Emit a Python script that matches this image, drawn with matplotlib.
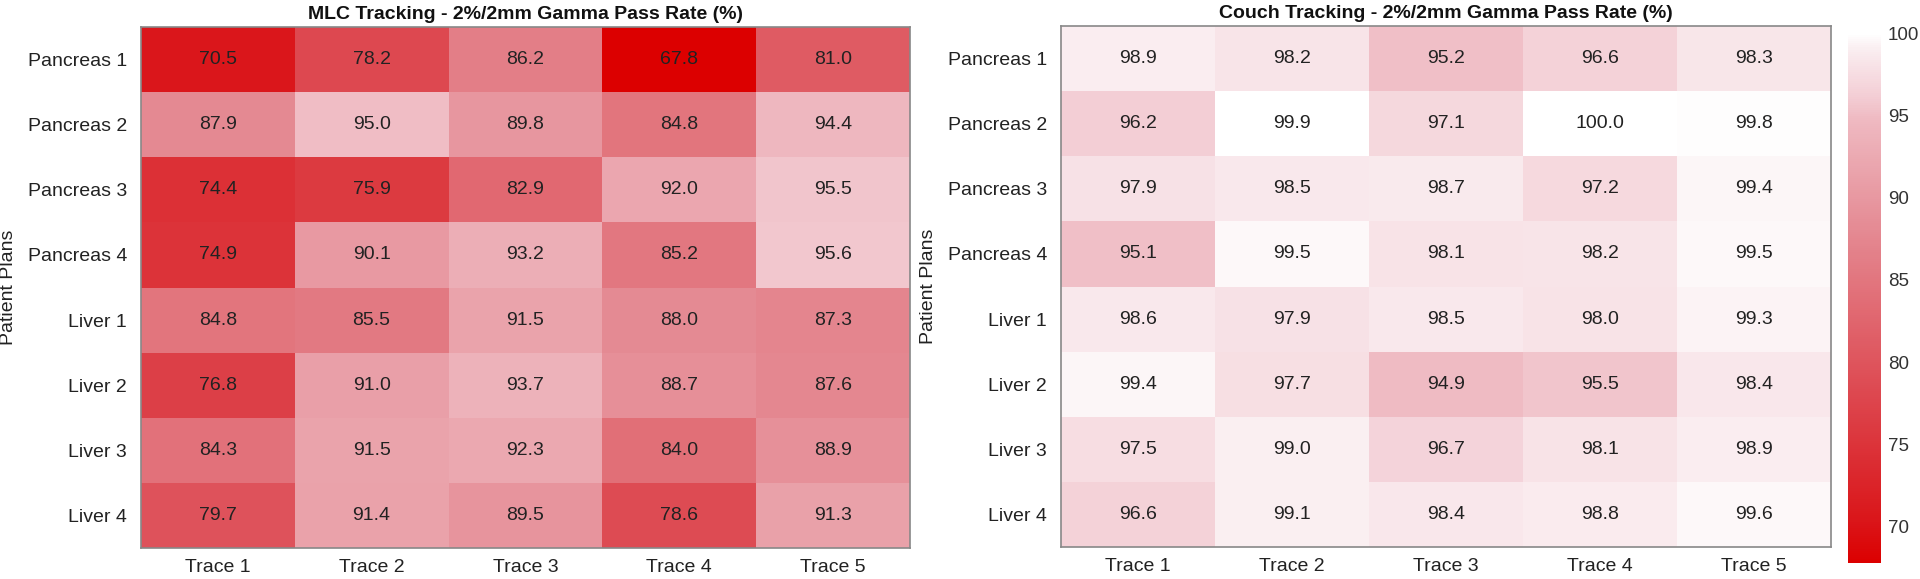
import matplotlib
matplotlib.use("Agg")
import matplotlib.pyplot as plt
import numpy as np
from matplotlib.colors import LinearSegmentedColormap

plt.rcParams['font.family'] = ['Liberation Sans', 'DejaVu Sans']

# 数据
plans = ["Pancreas 1", "Pancreas 2", "Pancreas 3", "Pancreas 4",
         "Liver 1", "Liver 2", "Liver 3", "Liver 4"]
traces = ["Trace 1", "Trace 2", "Trace 3", "Trace 4", "Trace 5"]

mlc_pass = [
    [70.5, 78.2, 86.2, 67.8, 81.0],
    [87.9, 95.0, 89.8, 84.8, 94.4],
    [74.4, 75.9, 82.9, 92.0, 95.5],
    [74.9, 90.1, 93.2, 85.2, 95.6],
    [84.8, 85.5, 91.5, 88.0, 87.3],
    [76.8, 91.0, 93.7, 88.7, 87.6],
    [84.3, 91.5, 92.3, 84.0, 88.9],
    [79.7, 91.4, 89.5, 78.6, 91.3],
]
couch_pass = [
    [98.9, 98.2, 95.2, 96.6, 98.3],
    [96.2, 99.9, 97.1, 100.0, 99.8],
    [97.9, 98.5, 98.7, 97.2, 99.4],
    [95.1, 99.5, 98.1, 98.2, 99.5],
    [98.6, 97.9, 98.5, 98.0, 99.3],
    [99.4, 97.7, 94.9, 95.5, 98.4],
    [97.5, 99.0, 96.7, 98.1, 98.9],
    [96.6, 99.1, 98.4, 98.8, 99.6],
]
titles = ["MLC Tracking - 2%/2mm Gamma Pass Rate (%)",
          "Couch Tracking - 2%/2mm Gamma Pass Rate (%)"]
cbar_ticks = [70, 75, 80, 85, 90, 95, 100]

VMIN, VMAX = 67.8, 100.0

# 红-白配色
cmap = LinearSegmentedColormap.from_list("red_white", [
    (0.00, "#dc0000"),
    (0.08, "#da161a"),
    (0.32, "#dd4850"),
    (0.62, "#e48891"),
    (0.84, "#efbac2"),
    (0.88, "#f3cdd4"),
    (0.97, "#faedf0"),
    (1.00, "#ffffff"),
])

TXT = "#222222"
fig = plt.figure(figsize=(19.2, 5.79), dpi=100)
ax_pos = [[0.0734, 0.0535, 0.4005, 0.8998],
          [0.5526, 0.0552, 0.4010, 0.8998]]

for pos, data, title in zip(ax_pos, [mlc_pass, couch_pass], titles):
    ax = fig.add_axes(pos)
    arr = np.array(data)
    mesh = ax.pcolormesh(arr, cmap=cmap, vmin=VMIN, vmax=VMAX)
    for i in range(arr.shape[0]):
        for j in range(arr.shape[1]):
            ax.text(j + 0.5, i + 0.5, f"{arr[i, j]:.1f}", ha="center",
                    va="center", fontsize=14, color=TXT)
    ax.set_xlim(0, len(traces))
    ax.set_ylim(len(plans), 0)
    ax.set_xticks(np.arange(len(traces)) + 0.5)
    ax.set_xticklabels(traces, fontsize=14, color=TXT)
    ax.set_yticks(np.arange(len(plans)) + 0.5)
    ax.set_yticklabels(plans, fontsize=14, color=TXT)
    ax.tick_params(axis="x", length=0, pad=8)
    ax.tick_params(axis="y", length=0, pad=10)
    ax.set_ylabel("Patient Plans", fontsize=14, color=TXT, labelpad=8)
    ax.set_title(title, fontsize=14, fontweight="bold", color="#111111", pad=6)
    for sp in ax.spines.values():
        sp.set_color("#888888")
        sp.set_linewidth(1.2)

cax = fig.add_axes([0.9625, 0.0276, 0.0172, 0.9154])
cb = fig.colorbar(mesh, cax=cax, ticks=cbar_ticks)
cb.outline.set_visible(False)
cb.ax.tick_params(length=0, labelsize=13.5, labelcolor="#333333", pad=5)

fig.savefig("out.png", dpi=100)
plt.close(fig)
